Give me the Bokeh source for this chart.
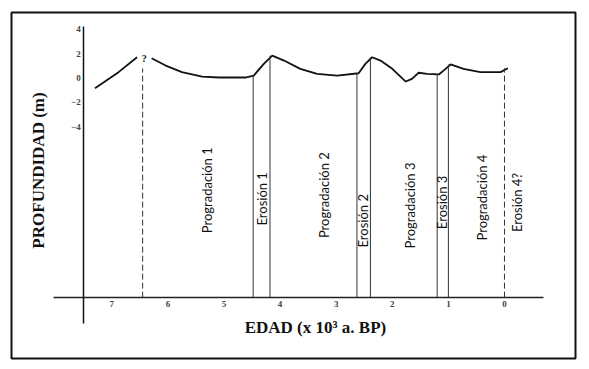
import math
from bokeh.plotting import figure
from bokeh.models import Range1d, FixedTicker, Label, ColumnDataSource
from bokeh.embed import file_html
from bokeh.resources import INLINE
from bokeh.core.properties import value

NaN = float("nan")

# ---- data (age in 10^3 a BP, depth in m) ----
curve_age = [7.30, 6.88, 6.55, NaN, 6.29, 6.04, 5.75, 5.39, 5.09, 4.62, 4.47, 4.29, 4.14,
             3.93, 3.64, 3.34, 2.98, 2.60, 2.48, 2.36, 2.21, 2.00, 1.76, 1.65, 1.53,
             1.38, 1.17, 1.05, 0.96, 0.73, 0.43, 0.07, -0.06]
curve_depth = [-0.84, 0.48, 1.70, NaN, 1.62, 1.02, 0.48, 0.12, 0.04, 0.04, 0.20, 1.16, 1.84,
               1.43, 0.75, 0.34, 0.20, 0.39, 1.16, 1.70, 1.43, 0.75, -0.29, -0.07, 0.43,
               0.34, 0.29, 0.75, 1.11, 0.75, 0.48, 0.48, 0.80]

solid_age = [4.48, 4.18, 2.63, 2.39, 1.20, 1.00]
solid_top = [0.20, 1.84, 0.39, 1.70, 0.29, 1.11]
dashed_age = [6.45, 0.0]
dashed_top = [0.78, 0.80]

phase_names = ["Progradación 1", "Erosión 1", "Progradación 2", "Erosión 2",
               "Progradación 3", "Erosión 3", "Progradación 4", "Erosión 4?"]
phase_age = [5.30, 4.32, 3.22, 2.52, 1.68, 1.11, 0.40, -0.23]
phase_depth = [-9.2, -9.9, -9.6, -11.7, -10.45, -10.2, -9.8, -10.2]

x_ticks = [7, 6, 5, 4, 3, 2, 1, 0]
y_ticks = [4, 2, 0, -2, -4]

BASE = -18.0  # depth at which the age axis is drawn

p = figure(width=580, height=362, output_backend="svg", toolbar_location=None,
           x_range=Range1d(8.788, -1.266), y_range=Range1d(-22.99, 5.369),
           min_border_left=11, min_border_right=5, min_border_top=12, min_border_bottom=4)
p.grid.visible = False
p.outline_line_color = "#111111"
p.outline_line_width = 2
p.background_fill_color = "white"
p.border_fill_color = "white"

xa = p.xaxis[0]
xa.fixed_location = BASE
xa.bounds = (-0.7, 8.04)
xa.ticker = FixedTicker(ticks=x_ticks)
xa.major_tick_out = 0
xa.major_tick_in = 0
xa.minor_tick_out = 0
xa.minor_tick_in = 0
xa.axis_line_color = "#222222"
xa.axis_line_width = 1.5
xa.major_label_text_font = "Liberation Serif"
xa.major_label_text_font_style = "bold"
xa.major_label_text_font_size = "9px"
xa.major_label_standoff = 3

ya = p.yaxis[0]
ya.fixed_location = 7.5
ya.bounds = (-20.12, 4.22)
ya.ticker = FixedTicker(ticks=y_ticks)
ya.major_tick_out = 0
ya.major_tick_in = 0
ya.minor_tick_out = 0
ya.minor_tick_in = 0
ya.axis_line_color = "#111111"
ya.axis_line_width = 1.5
ya.major_label_text_font = "Liberation Serif"
ya.major_label_text_font_style = "bold"
ya.major_label_text_font_size = "9px"
ya.major_label_standoff = 3
ya.major_label_orientation = "horizontal"

# profile curve
p.line(curve_age, curve_depth, line_color="#111111", line_width=1.8)

# boundaries
p.segment(x0=solid_age, y0=[BASE] * len(solid_age), x1=solid_age, y1=solid_top,
          line_color="#333333", line_width=1)
p.segment(x0=dashed_age, y0=[BASE] * len(dashed_age), x1=dashed_age, y1=dashed_top,
          line_color="#333333", line_width=1, line_dash="6 3")

src = ColumnDataSource(dict(x=phase_age, y=phase_depth, t=phase_names))
p.text(x="x", y="y", text="t", source=src, angle=math.pi / 2,
       text_align="center", text_baseline="middle",
       text_font=value("Lato"), text_font_size="13px", text_color="#111111")

p.add_layout(Label(x=6.42, y=1.6, text="?", text_align="center", text_baseline="middle",
                   text_font="Liberation Serif", text_font_style="bold",
                   text_font_size="10px", text_color="#111111"))

p.add_layout(Label(x=3.37, y=-20.45, text="EDAD (x 10³ a. BP)", text_align="center",
                   text_baseline="middle", text_font="Liberation Serif",
                   text_font_style="bold", text_font_size="17px", text_color="#111111"))
p.add_layout(Label(x=8.31, y=-7.58, text="PROFUNDIDAD (m)", angle=math.pi / 2,
                   text_align="center", text_baseline="middle", text_font="Liberation Serif",
                   text_font_style="bold", text_font_size="17px", text_color="#111111"))

open("out.html", "w").write(file_html(p, INLINE))
